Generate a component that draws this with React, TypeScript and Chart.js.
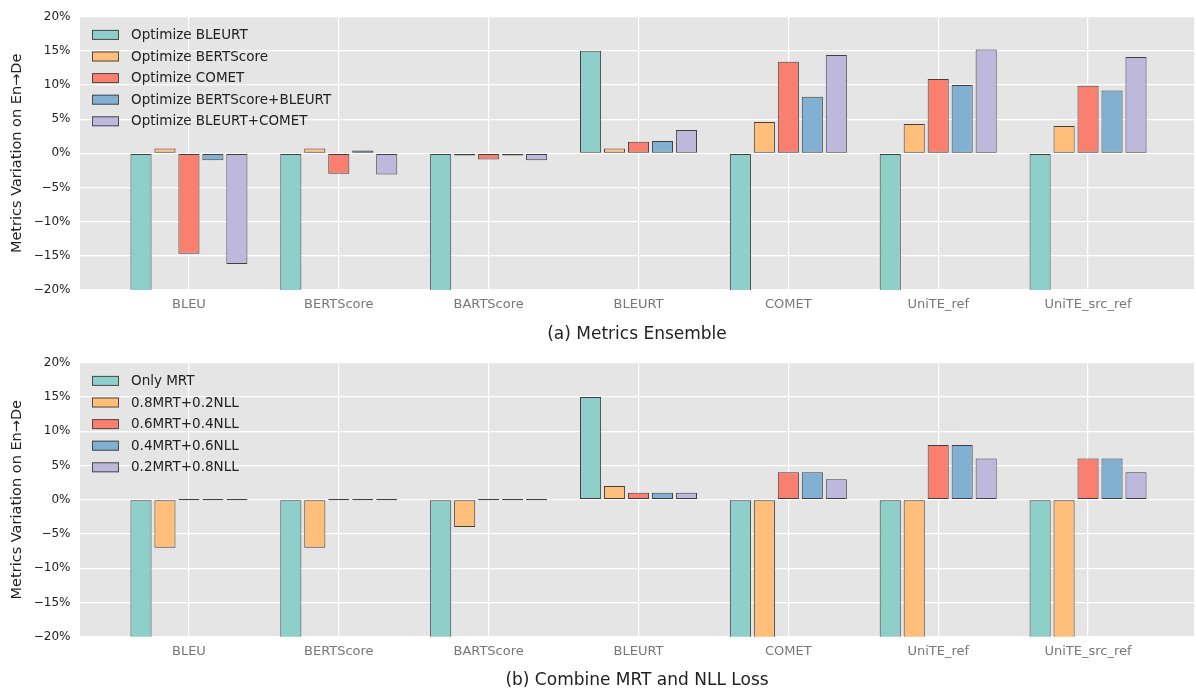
import { useEffect, useRef } from 'react';
import { Chart, registerables } from 'chart.js';

Chart.register(...registerables);

// ---------- data ----------
const categories = ['BLEU', 'BERTScore', 'BARTScore', 'BLEURT', 'COMET', 'UniTE_ref', 'UniTE_src_ref'];

const ensembleLabels = [
  'Optimize BLEURT',
  'Optimize BERTScore',
  'Optimize COMET',
  'Optimize BERTScore+BLEURT',
  'Optimize BLEURT+COMET',
];
const optBleurt = [-25, -25, -25, 15.0, -25, -25, -25];
const optBertscore = [0.7, 0.7, -0.3, 0.7, 4.6, 4.3, 4.0];
const optComet = [-14.7, -3.0, -0.9, 1.7, 13.4, 10.9, 9.9];
const optBertscoreBleurt = [-1.0, 0.4, -0.3, 1.8, 8.3, 10.0, 9.2];
const optBleurtComet = [-16.2, -3.1, -1.0, 3.4, 14.4, 15.2, 14.1];

const lossLabels = ['Only MRT', '0.8MRT+0.2NLL', '0.6MRT+0.4NLL', '0.4MRT+0.6NLL', '0.2MRT+0.8NLL'];
const onlyMrt = [-25, -25, -25, 15, -25, -25, -25];
const mrt08 = [-7, -7, -4, 2, -25, -25, -25];
const mrt06 = [0, 0, 0, 1, 4, 8, 6];
const mrt04 = [0, 0, 0, 1, 4, 8, 6];
const mrt02 = [0, 0, 0, 1, 3, 6, 4];

const yMin = -20;
const yMax = 20;
const yStep = 5;

const titleA = '(a) Metrics Ensemble';
const titleB = '(b) Combine MRT and NLL Loss';
const yTitle = 'Metrics Variation on En\u2192De';

// ---------- styles ----------
const palette = ['#8ECFC9', '#FFBE7A', '#FA7F6F', '#82B0D2', '#BEB8DC'];
const FONT = "'DejaVu Sans', 'Liberation Sans', sans-serif";

const bgPlugin = {
  id: 'plotBg',
  beforeDraw(chart: any) {
    const { ctx, chartArea: a } = chart;
    ctx.save();
    ctx.fillStyle = '#E5E5E5';
    ctx.fillRect(a.left, a.top, a.right - a.left, a.bottom - a.top);
    ctx.restore();
  },
};

const innerLegend = {
  id: 'innerLegend',
  afterDatasetsDraw(chart: any) {
    const { ctx, chartArea: a } = chart;
    ctx.save();
    ctx.font = `13.5px ${FONT}`;
    ctx.textBaseline = 'middle';
    ctx.textAlign = 'left';
    chart.data.datasets.forEach((ds: any, i: number) => {
      const x = a.left + 12;
      const y = a.top + 13.2 + i * 21.6;
      ctx.fillStyle = ds.backgroundColor;
      ctx.fillRect(x, y, 27, 10);
      ctx.strokeStyle = '#4a4a4a';
      ctx.lineWidth = 1;
      ctx.strokeRect(x + 0.5, y + 0.5, 26, 9);
      ctx.fillStyle = '#222222';
      ctx.fillText(ds.label, x + 39, y + 5.5);
    });
    ctx.restore();
  },
};

function pct(v: number) {
  return `${v < 0 ? '\u2212' : ''}${Math.abs(v)}%`;
}

function makeConfig(
  labels: string[],
  series: number[][],
  title: string,
  geo: { top: number; xHeight: number; tickPad: number; titlePad: number }
) {
  const datasets = series.map((vals, k) => ({
    label: labels[k],
    data: vals.map((v, i) => ({ x: i, y: v })),
    backgroundColor: palette[k],
    borderColor: '#404040',
    borderWidth: 1,
    borderSkipped: false,
    categoryPercentage: 0.8,
    barPercentage: 0.88,
    minBarLength: 1.3,
    clip: 0,
  }));
  return {
    type: 'bar',
    data: { datasets },
    plugins: [bgPlugin, innerLegend],
    options: {
      responsive: false,
      animation: false,
      devicePixelRatio: 1,
      layout: { padding: { top: geo.top, right: 2, left: 0, bottom: 0 } },
      plugins: { legend: { display: false }, tooltip: { enabled: false } },
      scales: {
        x: {
          type: 'linear',
          bounds: 'data',
          min: -0.727,
          max: 6.707,
          offset: false,
          grid: { color: '#FFFFFF', lineWidth: 1.2, drawTicks: false, offset: false },
          border: { display: false },
          afterBuildTicks: (s: any) => {
            s.ticks = categories.map((_, i) => ({ value: i }));
          },
          ticks: {
            autoSkip: false,
            maxRotation: 0,
            minRotation: 0,
            padding: geo.tickPad,
            color: '#777777',
            font: { family: FONT, size: 13 },
            callback: (v: any) => categories[Math.round(Number(v))] ?? '',
          },
          title: {
            display: true,
            text: title,
            color: '#222222',
            font: { family: FONT, size: 17 },
            padding: { top: 0, bottom: geo.titlePad },
          },
          afterFit: (s: any) => {
            s.height = geo.xHeight;
          },
        },
        y: {
          min: yMin,
          max: yMax,
          grid: { color: '#FFFFFF', lineWidth: 1.2, drawTicks: false },
          border: { display: false },
          ticks: {
            stepSize: yStep,
            padding: 9.5,
            color: '#222222',
            font: { family: FONT, size: 12 },
            callback: (v: any) => pct(Number(v)),
          },
          title: {
            display: true,
            text: yTitle,
            color: '#222222',
            font: { family: FONT, size: 14.5 },
            padding: { top: 9, bottom: 0 },
          },
          afterFit: (s: any) => {
            s.width = 80;
          },
        },
      },
    },
  };
}

function BarPanel(props: {
  labels: string[];
  series: number[][];
  title: string;
  height: number;
  geo: { top: number; xHeight: number; tickPad: number; titlePad: number };
}) {
  const ref = useRef<HTMLCanvasElement | null>(null);
  useEffect(() => {
    if (!ref.current) return;
    const chart = new Chart(ref.current, makeConfig(props.labels, props.series, props.title, props.geo) as any);
    return () => chart.destroy();
  }, []);
  return <canvas ref={ref} width={1196} height={props.height} style={{ display: 'block', width: 1196, height: props.height }} />;
}

export default function App() {
  return (
    <div style={{ position: 'absolute', left: 0, top: 0, width: 1196, height: 691, background: '#fff' }}>
      <BarPanel
        labels={ensembleLabels}
        series={[optBleurt, optBertscore, optComet, optBertscoreBleurt, optBleurtComet]}
        title={titleA}
        height={346}
        geo={{ top: 13.5, xHeight: 56, tickPad: 7, titlePad: 1.5 }}
      />
      <BarPanel
        labels={lossLabels}
        series={[onlyMrt, mrt08, mrt06, mrt04, mrt02]}
        title={titleB}
        height={345}
        geo={{ top: 14.3, xHeight: 54.3, tickPad: 7.5, titlePad: 0 }}
      />
    </div>
  );
}
